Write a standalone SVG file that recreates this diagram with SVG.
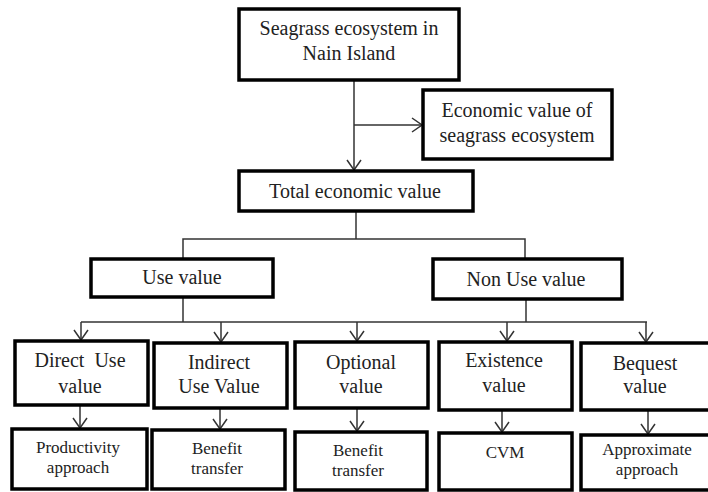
<svg xmlns="http://www.w3.org/2000/svg" width="708" height="492" viewBox="0 0 708 492">
<style>
.box{fill:#fff;stroke:#000;stroke-width:3.5}
.t{font-family:"Liberation Serif","Times New Roman",serif;font-size:20px;fill:#222;text-anchor:middle}
.s{font-size:17px}
.c{fill:none;stroke:#333;stroke-width:1.5}
</style>
<defs>
<marker id="ah" markerUnits="userSpaceOnUse" viewBox="0 0 12 16" refX="11" refY="8" markerWidth="12" markerHeight="16" orient="auto">
<path d="M1,1 L11,8 L1,15" fill="none" stroke="#333" stroke-width="1.5"/>
</marker>
</defs>
<rect width="708" height="492" fill="#fff"/>
<g id="connectors">
<line class="c" x1="354" y1="80" x2="354" y2="170" marker-end="url(#ah)"/>
<line class="c" x1="354" y1="125" x2="422" y2="125" marker-end="url(#ah)"/>
<polyline class="c" points="356,211 356,239"/>
<polyline class="c" points="183,259 183,239 525,239 525,259"/>
<line class="c" x1="183" y1="297" x2="183" y2="322"/>
<line class="c" x1="526" y1="299" x2="526" y2="322"/>
<line class="c" x1="81" y1="322" x2="647" y2="322"/>
<line class="c" x1="81" y1="322" x2="81" y2="340" marker-end="url(#ah)"/>
<line class="c" x1="221" y1="322" x2="221" y2="342" marker-end="url(#ah)"/>
<line class="c" x1="357" y1="322" x2="357" y2="341" marker-end="url(#ah)"/>
<line class="c" x1="507" y1="322" x2="507" y2="341" marker-end="url(#ah)"/>
<line class="c" x1="646" y1="322" x2="646" y2="342" marker-end="url(#ah)"/>
<line class="c" x1="80" y1="405" x2="80" y2="428" marker-end="url(#ah)"/>
<line class="c" x1="220" y1="408" x2="220" y2="429" marker-end="url(#ah)"/>
<line class="c" x1="357" y1="408" x2="357" y2="431" marker-end="url(#ah)"/>
<line class="c" x1="502" y1="410" x2="502" y2="432" marker-end="url(#ah)"/>
<line class="c" x1="648" y1="410" x2="648" y2="434" marker-end="url(#ah)"/>
</g>
<g id="seagrass">
<rect class="box" x="239" y="9" width="220" height="71"/>
<text class="t" x="349" y="35">Seagrass ecosystem in</text>
<text class="t" x="349" y="60">Nain Island</text>
</g>
<g id="economic">
<rect class="box" x="423" y="90" width="189" height="69"/>
<text class="t" x="517" y="117">Economic value of</text>
<text class="t" x="517" y="142">seagrass ecosystem</text>
</g>
<g id="total">
<rect class="box" x="239" y="171" width="234" height="40"/>
<text class="t" x="355" y="198">Total economic value</text>
</g>
<g id="use">
<rect class="box" x="91" y="259" width="182" height="38"/>
<text class="t" x="182" y="284">Use value</text>
</g>
<g id="nonuse">
<rect class="box" x="433" y="259" width="189" height="40"/>
<text class="t" x="526" y="286">Non Use value</text>
</g>
<g id="direct">
<rect class="box" x="15" y="341" width="133" height="64"/>
<text class="t" x="80" y="367" xml:space="preserve">Direct  Use</text>
<text class="t" x="80" y="393">value</text>
</g>
<g id="indirect">
<rect class="box" x="154" y="343" width="133" height="65"/>
<text class="t" x="219" y="369">Indirect</text>
<text class="t" x="219" y="393">Use Value</text>
</g>
<g id="optional">
<rect class="box" x="295" y="342" width="133" height="66"/>
<text class="t" x="361" y="369">Optional</text>
<text class="t" x="361" y="393">value</text>
</g>
<g id="existence">
<rect class="box" x="439" y="342" width="133" height="68"/>
<text class="t" x="504" y="367">Existence</text>
<text class="t" x="504" y="392">value</text>
</g>
<g id="bequest">
<rect class="box" x="581" y="343" width="131" height="67"/>
<text class="t" x="645" y="370">Bequest</text>
<text class="t" x="645" y="393">value</text>
</g>
<g id="productivity">
<rect class="box" x="12" y="429" width="135" height="60"/>
<text class="t s" x="78" y="453">Productivity</text>
<text class="t s" x="78" y="473">approach</text>
</g>
<g id="benefit1">
<rect class="box" x="152" y="430" width="133" height="59"/>
<text class="t s" x="217" y="454">Benefit</text>
<text class="t s" x="217" y="474">transfer</text>
</g>
<g id="benefit2">
<rect class="box" x="295" y="432" width="132" height="58"/>
<text class="t s" x="358" y="456">Benefit</text>
<text class="t s" x="358" y="476">transfer</text>
</g>
<g id="cvm">
<rect class="box" x="439" y="433" width="133" height="57"/>
<text class="t s" x="505" y="458">CVM</text>
</g>
<g id="approximate">
<rect class="box" x="581" y="435" width="131" height="55"/>
<text class="t s" x="647" y="455">Approximate</text>
<text class="t s" x="647" y="475">approach</text>
</g>
</svg>
